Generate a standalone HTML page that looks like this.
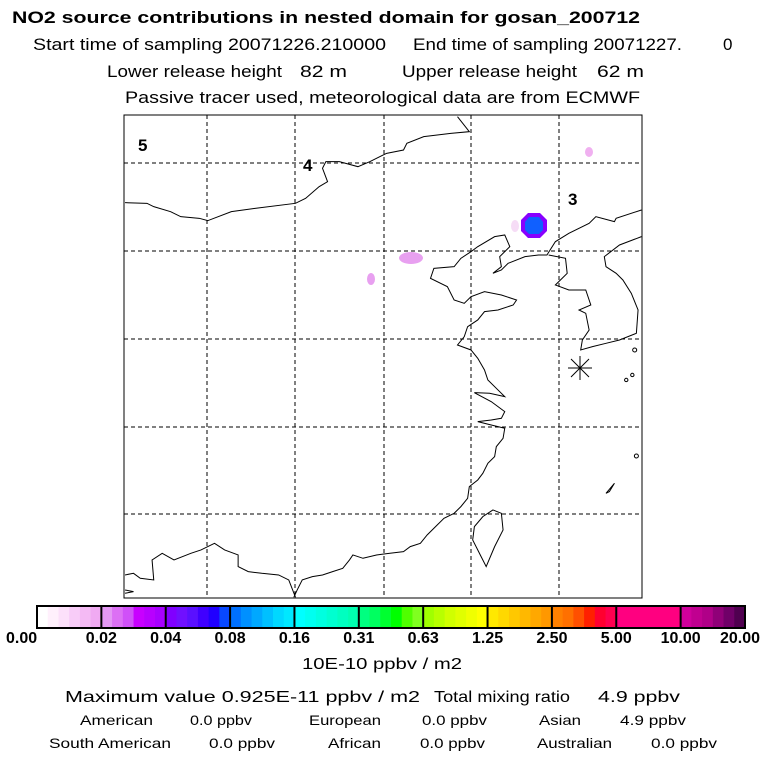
<!DOCTYPE html>
<html><head><meta charset="utf-8"><style>
html,body{margin:0;padding:0;background:#fff;width:768px;height:768px;overflow:hidden}
svg{display:block;font-family:"Liberation Sans",sans-serif}
</style></head><body>
<svg width="768" height="768" viewBox="0 0 768 768">
<defs><clipPath id="mapclip"><rect x="124" y="115" width="518" height="483"/></clipPath></defs>
<g font-size="17">
<text x="12" y="23" font-weight="bold" textLength="628" lengthAdjust="spacingAndGlyphs">NO2 source contributions in nested domain for gosan_200712</text>
<text x="33" y="50" textLength="353" lengthAdjust="spacingAndGlyphs">Start time of sampling 20071226.210000</text>
<text x="413" y="50" textLength="269" lengthAdjust="spacingAndGlyphs">End time of sampling 20071227.</text>
<text x="723" y="50">0</text>
<text x="107" y="77" textLength="175" lengthAdjust="spacingAndGlyphs">Lower release height</text>
<text x="300" y="77" textLength="47" lengthAdjust="spacingAndGlyphs">82 m</text>
<text x="402" y="77" textLength="175" lengthAdjust="spacingAndGlyphs">Upper release height</text>
<text x="597" y="77" textLength="47" lengthAdjust="spacingAndGlyphs">62 m</text>
<text x="125" y="103" textLength="515" lengthAdjust="spacingAndGlyphs">Passive tracer used, meteorological data are from ECMWF</text>
</g>
<g>
<rect x="124" y="115" width="518" height="483" fill="#fff"/>
<g stroke="#000" stroke-dasharray="4,3" stroke-width="1">
<line x1="207" y1="115" x2="207" y2="598"/><line x1="295" y1="115" x2="295" y2="598"/><line x1="384" y1="115" x2="384" y2="598"/><line x1="471" y1="115" x2="471" y2="598"/><line x1="559" y1="115" x2="559" y2="598"/>
<line x1="124" y1="163" x2="642" y2="163"/><line x1="124" y1="251" x2="642" y2="251"/><line x1="124" y1="339" x2="642" y2="339"/><line x1="124" y1="427" x2="642" y2="427"/><line x1="124" y1="514" x2="642" y2="514"/>
</g>
<g clip-path="url(#mapclip)">
<g transform="translate(120,110) scale(0.3375,0.3333)" fill="none" stroke="#000" stroke-width="1">
<polyline vector-effect="non-scaling-stroke" points="1000,20 1035,65 980,70 900,80 850,100 840,120 790,130 740,155 705,170 650,155 610,155 600,175 615,215 590,230 550,265 520,280 400,295 330,305 260,332 235,325 180,320 150,305 100,290 80,280 15,278"/>
<polyline vector-effect="non-scaling-stroke" points="1545,300 1470,325 1465,335 1410,320 1390,340 1330,370 1290,395 1265,435 1240,435 1200,440 1150,460 1130,480 1105,490 1130,470 1125,440 1155,410 1140,375 1110,380 1060,410 1040,425 1010,445 990,470 930,475 920,505 970,530 990,570 1020,580 1040,560 1080,545 1130,555 1175,570 1165,585 1120,600 1080,605 1060,630 1030,650 1020,680 1000,705 1040,720 1060,745 1080,780 1090,810 1115,835 1140,860 1095,850 1050,848 1100,875 1140,905 1130,925 1100,930 1060,935 1100,945 1140,955 1135,985 1115,1010 1110,1040 1090,1060 1075,1090 1060,1110 1035,1130 1030,1165 1010,1190 990,1210 960,1225 935,1250 910,1275 890,1300 860,1310 840,1325 800,1330 760,1335 720,1345 690,1335 680,1350 660,1375 630,1385 600,1395 570,1400 540,1410 525,1440 515,1462"/>
<polyline vector-effect="non-scaling-stroke" points="1270,435 1320,445 1325,490 1290,525 1330,540 1380,540 1395,585 1360,600 1380,610 1390,660 1370,690 1365,720 1400,710 1440,700 1480,690 1530,670 1535,600 1515,550 1490,510 1470,490 1440,470 1435,440 1480,405 1545,380"/>
<polyline vector-effect="non-scaling-stroke" points="15,1395 40,1390 60,1405 100,1410 95,1350 125,1330 160,1350 210,1330 240,1320 280,1300 310,1320 350,1335 350,1370 380,1385 420,1390 470,1395 500,1410 520,1462"/>
<polyline vector-effect="non-scaling-stroke" points="15,1440 40,1445 15,1450"/>
<polygon vector-effect="non-scaling-stroke" points="1105,1200 1130,1210 1135,1260 1110,1310 1085,1370 1070,1340 1045,1290 1050,1250 1075,1220"/>
<polygon vector-effect="non-scaling-stroke" points="1440,1150 1465,1120 1450,1145"/>
<circle vector-effect="non-scaling-stroke" cx="1530" cy="1038" r="6"/><circle vector-effect="non-scaling-stroke" cx="1500" cy="810" r="5"/><circle vector-effect="non-scaling-stroke" cx="1518" cy="795" r="5"/><circle vector-effect="non-scaling-stroke" cx="1525" cy="720" r="6"/>
</g>
</g>
<rect x="124" y="115" width="518" height="483" fill="none" stroke="#000"/>
<g>
<ellipse cx="589" cy="152" rx="4" ry="5" fill="#f0b0f0"/>
<ellipse cx="411" cy="258" rx="12" ry="6" fill="#e8a0f0"/>
<ellipse cx="371" cy="279" rx="4" ry="6" fill="#e8a0f0"/>
<ellipse cx="515" cy="226" rx="4" ry="6" fill="#f6dcf6"/>
<polygon points="528,213 540,213 547,220 547,231 540,238 528,238 521,231 521,220" fill="#8800ff"/>
<polygon points="529,217 539,217 543,222 543,230 539,234 529,234 525,230 525,222" fill="#1060ff"/>
</g>
<g stroke="#000">
<line x1="568" y1="368" x2="592" y2="368"/><line x1="580" y1="356" x2="580" y2="380"/><line x1="571" y1="359" x2="589" y2="377"/><line x1="571" y1="377" x2="589" y2="359"/>
</g>
<g font-weight="bold" font-size="17">
<text x="138" y="151">5</text><text x="303" y="171">4</text><text x="568" y="205">3</text>
</g>
</g>
<g id="cbar"></g>
<g font-size="16">
<text x="302" y="669" textLength="160" lengthAdjust="spacingAndGlyphs">10E-10 ppbv / m2</text>
<text x="65" y="702" textLength="355" lengthAdjust="spacingAndGlyphs">Maximum value  0.925E-11 ppbv / m2</text>
<text x="434" y="702" textLength="136" lengthAdjust="spacingAndGlyphs">Total mixing ratio</text>
<text x="598" y="702" textLength="82" lengthAdjust="spacingAndGlyphs">4.9 ppbv</text>
<g font-size="14">
<text x="80" y="725" textLength="73" lengthAdjust="spacingAndGlyphs">American</text>
<text x="190" y="725" textLength="62" lengthAdjust="spacingAndGlyphs">0.0 ppbv</text>
<text x="309" y="725" textLength="72" lengthAdjust="spacingAndGlyphs">European</text>
<text x="422" y="725" textLength="65" lengthAdjust="spacingAndGlyphs">0.0 ppbv</text>
<text x="539" y="725" textLength="42" lengthAdjust="spacingAndGlyphs">Asian</text>
<text x="620" y="725" textLength="66" lengthAdjust="spacingAndGlyphs">4.9 ppbv</text>
<text x="49" y="748" textLength="122" lengthAdjust="spacingAndGlyphs">South American</text>
<text x="209" y="748" textLength="66" lengthAdjust="spacingAndGlyphs">0.0 ppbv</text>
<text x="328" y="748" textLength="53" lengthAdjust="spacingAndGlyphs">African</text>
<text x="420" y="748" textLength="65" lengthAdjust="spacingAndGlyphs">0.0 ppbv</text>
<text x="537" y="748" textLength="75" lengthAdjust="spacingAndGlyphs">Australian</text>
<text x="651" y="748" textLength="66" lengthAdjust="spacingAndGlyphs">0.0 ppbv</text>
</g>
</g>
</svg>
<script>
const tickLabels=["0.00","0.02","0.04","0.08","0.16","0.31","0.63","1.25","2.50","5.00","10.00","20.00"];
const segColors=[
["#ffffff","#fff0fc","#fce0fa","#f8ccf8","#f4baf4","#f0aaf2"],
["#e498f4","#dc70f4","#d050f8","#c800ff","#b800ff","#a800ff"],
["#8000ff","#7010ff","#5a10ff","#4000ff","#2000ff","#0848ff"],
["#0070ff","#0090ff","#00a8ff","#00c0ff","#00d8ff","#00e8ff"],
["#00ffff","#00fff0","#00ffe0","#00ffd0","#00ffc0","#00ffb0"],
["#00ff80","#00ff60","#00ff30","#00ff00","#50ff00","#80ff20"],
["#a0ff00","#b8ff00","#d0ff00","#e0ff00","#f0ff00","#ffff00"],
["#ffe800","#ffd800","#ffc800","#ffb800","#ffa800","#ff9800"],
["#ff8000","#ff7000","#ff5000","#ff2000","#ff0030","#ff0050"],
["#ff0080","#ff0080","#ff0080","#ff0080","#ff0080","#ff0080"],
["#d0009c","#c00090","#b00088","#900078","#700068","#500050"]];
const ns="http://www.w3.org/2000/svg";
const cb=document.getElementById('cbar');
const x0=37,x1=745,y0=606,h=22;
const segW=(x1-x0)/segColors.length;
function xAt(i){return x0+i*segW;}
segColors.forEach((cols,i)=>{
  cols.forEach((c,j)=>{
    const r=document.createElementNS(ns,'rect');
    r.setAttribute('x',xAt(i)+j*segW/cols.length);r.setAttribute('y',y0);
    r.setAttribute('width',segW/cols.length+0.5);r.setAttribute('height',h);r.setAttribute('fill',c);
    
    
    cb.appendChild(r);
  });
});
const fr=document.createElementNS(ns,'rect');
fr.setAttribute('x',x0);fr.setAttribute('y',y0);fr.setAttribute('width',x1-x0);fr.setAttribute('height',h);
fr.setAttribute('fill','none');fr.setAttribute('stroke','#000');fr.setAttribute('stroke-width','2');


cb.appendChild(fr);
tickLabels.forEach((t,i)=>{
  const x=xAt(i);
  const l=document.createElementNS(ns,'line');
  l.setAttribute('x1',x);l.setAttribute('x2',x);l.setAttribute('y1',y0);l.setAttribute('y2',y0+h);
  l.setAttribute('stroke','#000');l.setAttribute('stroke-width','2');
  
  
  cb.appendChild(l);
  const tx=document.createElementNS(ns,'text');
  tx.setAttribute('x',x);tx.setAttribute('y',643);
  tx.setAttribute('text-anchor',i===0?'start':(i===tickLabels.length-1?'end':'middle'));
  if(i===0)tx.setAttribute('x',6);
  if(i===tickLabels.length-1)tx.setAttribute('x',760);
  tx.setAttribute('font-weight','bold');tx.setAttribute('font-size','16');
  tx.textContent=t;
  
  
  cb.appendChild(tx);
});
</script>
</body></html>
